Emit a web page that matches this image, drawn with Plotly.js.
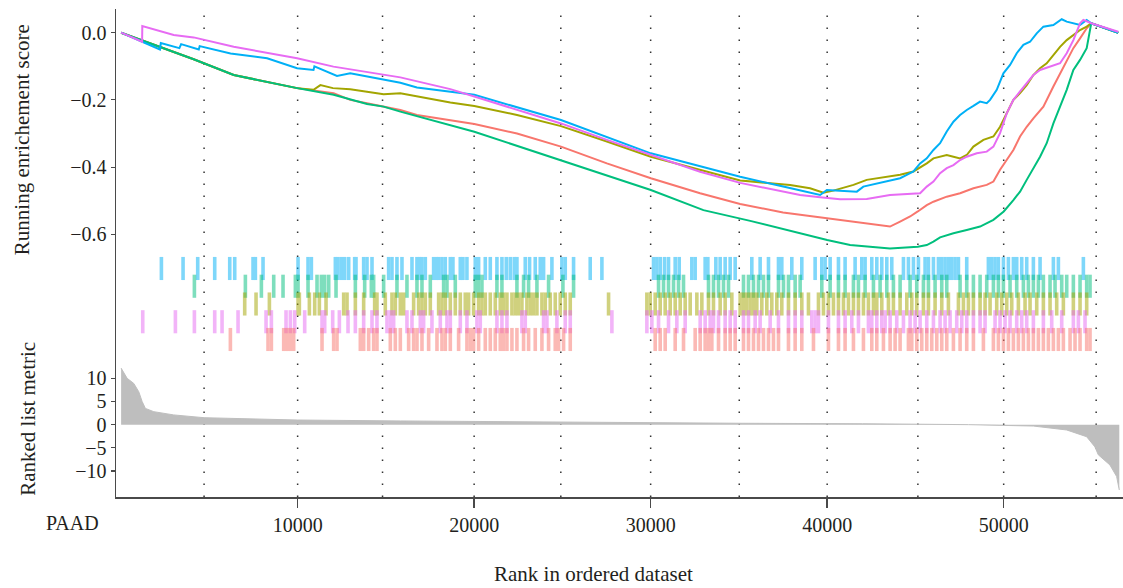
<!DOCTYPE html>
<html>
<head>
<meta charset="utf-8">
<script src="https://cdn.plot.ly/plotly-3.0.1.min.js"></script>
<style>html,body{margin:0;padding:0;background:#fff;}#chart{width:1123px;height:588px;}</style>
</head>
<body>
<div id="chart"></div>
<script>
// ---------- data ----------
const seriesNames = ["red", "olive", "green", "blue", "purple"];
const seriesColors = ["#F8766D", "#A3A500", "#00BF7D", "#00B0F6", "#E76BF3"];

const redRank = [0, 4110, 6380, 9970, 12040, 12980, 13930, 15820, 16760, 20010, 22430, 24920, 27520, 30010, 32800, 35070, 37500, 40000, 41680, 43560, 44132, 44699, 45133, 45643, 46020, 46775, 47530, 48285, 49040, 49418, 49795, 50173, 50550, 50928, 51305, 51683, 52249, 52816, 53193, 53571, 53948, 54326, 54703, 54960, 56490];
const redES = [0, -0.079, -0.126, -0.165, -0.18, -0.2, -0.21, -0.23, -0.245, -0.272, -0.3, -0.339, -0.389, -0.433, -0.478, -0.51, -0.535, -0.552, -0.562, -0.577, -0.562, -0.547, -0.532, -0.513, -0.503, -0.488, -0.478, -0.463, -0.453, -0.443, -0.408, -0.379, -0.349, -0.309, -0.28, -0.255, -0.22, -0.16, -0.121, -0.081, -0.046, -0.017, 0.013, 0.028, 0.0];

const oliveRank = [0, 4110, 6380, 9970, 10900, 11290, 12000, 12980, 14870, 15820, 18650, 20010, 22430, 24920, 27520, 30010, 35070, 37900, 39030, 39790, 40350, 41490, 42240, 44132, 44887, 45643, 46020, 46397, 46775, 47153, 47530, 47908, 48285, 48852, 49418, 49795, 50173, 50550, 50928, 51305, 51683, 52061, 52438, 52816, 53193, 53571, 53948, 54326, 54703, 54960, 56490];
const oliveES = [0, -0.079, -0.126, -0.165, -0.17, -0.156, -0.165, -0.168, -0.183, -0.18, -0.208, -0.218, -0.245, -0.278, -0.324, -0.369, -0.44, -0.453, -0.463, -0.476, -0.47, -0.453, -0.438, -0.423, -0.413, -0.389, -0.374, -0.369, -0.364, -0.369, -0.374, -0.364, -0.339, -0.319, -0.309, -0.28, -0.24, -0.2, -0.18, -0.156, -0.126, -0.106, -0.091, -0.066, -0.042, -0.022, -0.007, 0.008, 0.018, 0.028, 0.0];

const greenRank = [0, 4110, 6380, 9970, 12040, 13930, 14870, 15820, 20010, 24920, 30010, 32990, 35070, 35640, 40000, 41300, 43560, 45133, 45643, 46020, 46397, 46775, 47153, 47908, 48663, 49418, 50003, 50550, 50928, 51305, 51683, 52061, 52438, 52816, 53193, 53571, 53948, 54326, 54703, 54892, 54960, 56490];
const greenES = [0, -0.079, -0.126, -0.165, -0.185, -0.212, -0.22, -0.235, -0.295, -0.379, -0.468, -0.528, -0.552, -0.56, -0.617, -0.632, -0.642, -0.637, -0.632, -0.622, -0.609, -0.602, -0.597, -0.587, -0.577, -0.557, -0.532, -0.498, -0.473, -0.438, -0.403, -0.369, -0.329, -0.27, -0.22, -0.17, -0.111, -0.081, -0.046, 0.008, 0.028, 0.0];

const blueRank = [0, 1190, 2200, 2250, 3300, 3400, 4400, 4450, 6200, 8270, 9970, 10900, 10950, 12230, 12980, 15820, 16760, 20010, 24920, 30010, 35070, 37510, 39600, 39980, 41680, 42050, 44132, 44510, 44887, 45265, 45643, 46020, 46397, 46775, 47153, 47530, 47908, 48285, 48663, 49040, 49229, 49607, 49984, 50362, 50739, 51117, 51494, 51872, 52249, 52816, 53288, 53571, 54326, 54703, 54960, 56490];
const blueES = [0, -0.027, -0.05, -0.031, -0.046, -0.034, -0.05, -0.04, -0.062, -0.076, -0.106, -0.111, -0.1, -0.129, -0.121, -0.149, -0.163, -0.185, -0.26, -0.359, -0.429, -0.458, -0.483, -0.468, -0.473, -0.458, -0.433, -0.423, -0.413, -0.389, -0.374, -0.349, -0.329, -0.294, -0.265, -0.245, -0.23, -0.218, -0.205, -0.21, -0.2, -0.17, -0.121, -0.096, -0.061, -0.036, -0.027, -0.002, 0.018, 0.023, 0.04, 0.033, 0.023, 0.038, 0.028, 0.0];

const purpleRank = [0, 1190, 1200, 2980, 4110, 6380, 9970, 12030, 15820, 18650, 20010, 22430, 24920, 27520, 30010, 32800, 35070, 38470, 39600, 40730, 42240, 43560, 45265, 45643, 46020, 46397, 46775, 47153, 47530, 47908, 48474, 49040, 49418, 49795, 50173, 50550, 50928, 51305, 51683, 52061, 52627, 53193, 53571, 53948, 54326, 54515, 54960, 56490];
const purpleES = [0, -0.027, 0.02, -0.007, -0.014, -0.042, -0.076, -0.101, -0.133, -0.168, -0.19, -0.23, -0.27, -0.319, -0.364, -0.414, -0.447, -0.483, -0.49, -0.496, -0.495, -0.483, -0.478, -0.458, -0.443, -0.418, -0.403, -0.394, -0.379, -0.369, -0.359, -0.354, -0.339, -0.299, -0.24, -0.2, -0.175, -0.151, -0.126, -0.111, -0.101, -0.091, -0.061, -0.022, 0.028, 0.038, 0.028, 0.003];

// gene-set hit positions (barcode rows, top to bottom: blue, green, olive, purple, red)
const blueHits = [2282, 3509, 4340, 5303, 6153, 6436, 7474, 7606, 8040, 10023, 10589, 10778, 12137, 12288, 12477, 12666, 12892, 13232, 13307, 13741, 13930, 14213,
  15156, 15345, 15628, 15911, 16478, 16761, 16912, 17044, 17233, 17705, 17856, 17988, 18177, 18365, 18649, 18799, 19215, 19366, 19592, 20064, 20253, 20631, 20914, 21291, 21574, 21820, 22046, 22273, 22424, 22896, 23141, 23462, 23745, 23934, 24406, 24972, 25161, 25633, 26577, 27238,
  30163, 30351, 30540, 30786, 31012, 31390, 31616, 32333, 32522, 33088, 33240, 33693, 33938, 34221, 34505, 34788, 35731, 36203, 36675, 37242, 37430, 37997, 38563, 39318, 39696, 39885, 40168, 40640, 41016, 41583, 41961, 42149, 42527,
  42811, 43094, 43377, 43660, 44321, 44604, 44887, 45170, 45548, 45737, 46020, 46303, 46492, 46680, 46869, 47058, 47247, 47436, 47907, 49134, 49323, 49512, 49701, 49984, 50267, 50550, 50739, 51022, 51305, 51683, 52061, 52816, 53099, 54515];
const greenHits = [4151, 7040, 7946, 8645, 9173, 9872, 10023, 10589, 11099, 11344, 11533, 11760, 12175, 13270, 13799, 14176,
  14307, 14873, 15628, 16194, 16761, 17044, 17516, 18271, 18460, 18932, 20064, 20253, 20442, 21291, 21574, 22424, 22801, 23084, 23557, 24217, 25029, 25633,
  30446, 30729, 31012, 31295, 31578, 31861, 33277, 33560, 33844, 34127, 34410, 35259, 35542, 35825, 36109, 36392, 36675, 37242, 37525, 37808, 38186, 38469, 39696, 40168, 40640, 41016, 41488, 41772, 42149,
  42622, 42999, 43377, 43754, 44132, 44698, 45076, 45453, 45737, 46114, 46492, 46775, 47530, 47908, 48285, 48663, 49040, 49418, 49701, 49984, 50361, 50739, 51116, 51400, 51683, 51966, 52249, 52627, 52910, 53288, 53571, 53948, 54326, 54703, 54892];
const oliveHits = [7002, 7644, 8400, 10023, 10098, 10665, 10967, 11231, 11609, 12609, 12798, 13270, 13741, 14364,
  14495, 14967, 15345, 15534, 15817, 16006, 16572, 16855, 17044, 17233, 17516, 17988, 18177, 18365, 18649, 18932, 19215, 19498, 19687, 19970, 20253, 20442, 20631, 20914, 21197, 21480, 21669, 21858, 22141, 22329, 22518, 22707, 22990, 23179, 23368, 23557, 23840, 24029, 24312, 24595, 24878, 25161, 25444, 27615,
  29785, 29974, 30257, 30540, 30823, 31106, 31390, 31673, 31956, 32239, 32617, 32900, 33277, 33560, 33938, 34221, 34599, 35070, 35259, 35448, 35637, 35826, 36014, 36298, 36581, 36864, 37147, 37430, 37808, 38186, 38563, 38940, 39507, 39790, 40073, 40356, 40640, 40923, 41206, 41489, 41772, 42055, 42338,
  42622, 42811, 43094, 43471, 43754, 44132, 44510, 44793, 45076, 45453, 45737, 46114, 46492, 46869, 47436, 47719, 48002, 48285, 48663, 48946, 49229, 49606, 49890, 50173, 50456, 50833, 51211, 51494, 51872, 52249, 52627, 53004, 53382, 53948, 54326, 54703];
const purpleHits = [1225, 3075, 4151, 5303, 5718, 6624, 8210, 8512, 9343, 9588, 9834, 10400, 11382, 11533, 11986, 12364, 12854, 13270, 13741, 14213,
  14495, 15062, 15251, 15440, 16194, 16478, 16950, 17138, 17610, 18082, 18460, 18649, 19215, 19592, 20159, 20347, 21291, 21574, 21858, 22707, 22896, 23934, 24123, 24689, 25161, 25444, 27804,
  29785, 30068, 30446, 31012, 31484, 31956, 32805, 33088, 33372, 33560, 33844, 34221, 34505, 34788, 35259, 35542, 35920, 36203, 36770, 37242, 37808, 38186, 38563, 39129, 39318, 39507, 40073, 40640, 41016, 41394, 41772, 42338,
  42527, 42811, 43094, 43283, 43566, 43943, 44321, 44698, 44981, 45265, 45642, 46020, 46397, 46680, 46964, 47341, 47624, 47908, 48285, 48663, 48946, 49512, 49795, 50078, 50361, 50739, 51022, 51305, 51683, 52249, 52721, 53288, 53948, 54231, 54609];
const redHits = [6190, 8323, 8512, 9211, 9343, 9456, 9588, 9777, 11382, 12042, 12231, 13552, 13741, 14024, 14307,
  14495, 15251, 15534, 15817, 16289, 16572, 16761, 17044, 17422, 17894, 18177, 18365, 18649, 19120, 19592, 19781, 19970, 20253, 20631, 20914, 21197, 21480, 21669, 21858, 22141, 22424, 22801, 23084, 23462, 23840, 24217, 24595, 24784, 25067, 25444,
  30257, 30540, 30823, 31390, 31862, 32522, 32805, 33088, 33277, 33466, 33844, 34221, 34505, 34788, 35259, 35542, 35826, 36109, 36392, 36675, 36958, 37242, 37808, 38186, 38563, 39224, 40073, 40640, 41016, 41489, 42055, 42527,
  42811, 43188, 43566, 43849, 44132, 44604, 44793, 45076, 45359, 45642, 45925, 46209, 46492, 46775, 47152, 47530, 47907, 48285, 48851, 49417, 49701, 49984, 50267, 50550, 50833, 51116, 51400, 51683, 51966, 52249, 52532, 52816, 53099, 53382, 53760, 54042, 54326, 54703, 54892];

// ranked list metric
const metricRank = [0, 340, 715, 1000, 1190, 1376, 1850, 2980, 4700, 10000, 15820, 25000, 35000, 42000, 48000, 51680, 53570, 54700, 55170, 55360, 56020, 56400, 56550];
const metricVal = [12.2, 10, 8.9, 7.1, 5.0, 3.5, 2.8, 2.1, 1.5, 1.0, 0.8, 0.5, 0.3, 0.2, 0.0, -0.3, -1.15, -2.6, -4.8, -6.5, -8.7, -11.2, -14.1];

// axis ticks / grid
const xTickVals = [10000, 20000, 30000, 40000, 50000];
const gridRanks = [4700, 10000, 14810, 20000, 24910, 30000, 35020, 40000, 45140, 50000, 55240];
const esTickVals = [-0.6, -0.4, -0.2, 0.0];
const metricTickVals = [-10, -5, 0, 5, 10];

// ---------- build ----------
const FONT = "Liberation Serif, Times New Roman, serif";
const TXT = "#231f20";
const AX = "#4a4a4a";

const esSeries = [
  [redRank, redES], [oliveRank, oliveES], [greenRank, greenES], [blueRank, blueES], [purpleRank, purpleES]
];
const traces = [];

// barcode rows: blue(4), green(3), olive(2), purple(1), red(0)
const rows = [
  [blueHits, seriesColors[3], 4],
  [greenHits, seriesColors[2], 3],
  [oliveHits, seriesColors[1], 2],
  [purpleHits, seriesColors[4], 1],
  [redHits, seriesColors[0], 0]
];
rows.forEach(r => {
  traces.push({
    type: "scatter", mode: "markers", x: r[0], y: r[0].map(() => r[2]),
    xaxis: "x", yaxis: "y2", opacity: 0.5,
    marker: {symbol: "line-ns", size: 16.5, line: {color: r[1], width: 3.6}},
    hoverinfo: "skip", showlegend: false
  });
});

traces.push({
  type: "scatter", mode: "lines", x: metricRank, y: metricVal, xaxis: "x", yaxis: "y",
  fill: "tozeroy", fillcolor: "#BEBEBE", line: {color: "#BEBEBE", width: 1},
  hoverinfo: "skip", showlegend: false
});

esSeries.forEach((s, i) => {
  traces.push({
    type: "scatter", mode: "lines", x: s[0], y: s[1], xaxis: "x", yaxis: "y3",
    line: {color: seriesColors[i], width: 2}, hoverinfo: "skip", showlegend: false
  });
});

const shapes = gridRanks.map(g => ({
  type: "line", xref: "x", yref: "paper", x0: g, x1: g, y0: 0, y1: 1,
  line: {color: "#333333", width: 1.5, dash: "1.5px,10.5px"}, layer: "below"
}));

const tickFont = {family: FONT, size: 20, color: TXT};
const titleFont = {family: FONT, size: 21, color: TXT};

const layout = {
  width: 1123, height: 588,
  margin: {l: 116, r: 0, t: 9, b: 91, pad: 0},
  paper_bgcolor: "#ffffff", plot_bgcolor: "rgba(0,0,0,0)",
  showlegend: false,
  xaxis: {
    range: [-290, 56760], anchor: "y", tickvals: xTickVals, ticks: "outside", ticklen: 9,
    tickwidth: 1.5, tickcolor: AX, showline: true, linecolor: AX, linewidth: 1.5,
    showgrid: false, zeroline: false, tickfont: tickFont, tickformat: "d"
  },
  yaxis: {
    domain: [0, 0.291], range: [-15.61, 15.03], anchor: "x", tickvals: metricTickVals,
    ticks: "outside", ticklen: 4, tickwidth: 1.2, tickcolor: AX, showline: true, linecolor: AX, linewidth: 1.5,
    showgrid: false, zeroline: false, tickfont: tickFont
  },
  yaxis2: {
    domain: [0.291, 0.4959], range: [-0.873, 4.76], anchor: "x",
    showticklabels: false, ticks: "", showline: true, linecolor: AX, linewidth: 1.5,
    showgrid: false, zeroline: false
  },
  yaxis3: {
    domain: [0.4959, 1], range: [-0.6616, 0.0705], anchor: "x", tickvals: esTickVals, tickformat: ".1f",
    ticks: "outside", ticklen: 4, tickwidth: 1.2, tickcolor: AX, showline: true, linecolor: AX, linewidth: 1.5,
    showgrid: false, zeroline: false, tickfont: tickFont
  },
  shapes: shapes,
  annotations: [
    {text: "Running enrichement score", xref: "paper", yref: "paper", x: -0.0935, y: 0.733,
     xanchor: "center", yanchor: "middle", textangle: -90, showarrow: false, font: titleFont},
    {text: "Ranked list metric", xref: "paper", yref: "paper", x: -0.0875, y: 0.16,
     xanchor: "center", yanchor: "middle", textangle: -90, showarrow: false, font: titleFont},
    {text: "PAAD", xref: "paper", yref: "paper", x: -0.0434, y: -0.053,
     xanchor: "center", yanchor: "middle", showarrow: false, font: tickFont},
    {text: "Rank in ordered dataset", xref: "paper", yref: "paper", x: 0.474, y: -0.158,
     xanchor: "center", yanchor: "middle", showarrow: false, font: titleFont}
  ]
};

Plotly.newPlot("chart", traces, layout, {displayModeBar: false, staticPlot: true});
</script>
</body>
</html>
